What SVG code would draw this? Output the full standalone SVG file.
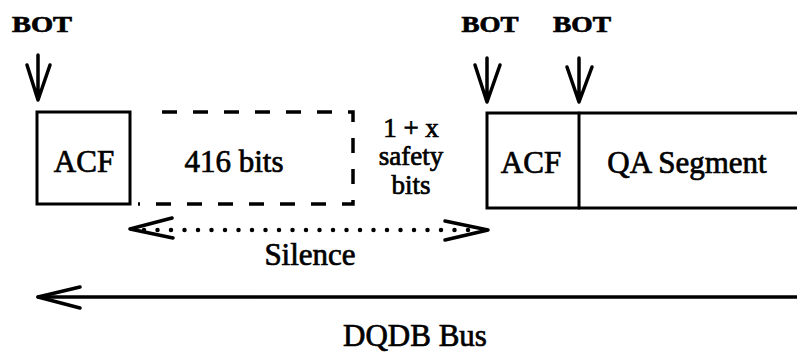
<svg xmlns="http://www.w3.org/2000/svg" width="797" height="352" viewBox="0 0 797 352">
<style>
text{font-family:"Liberation Serif","Times New Roman",serif;fill:#000;text-anchor:middle;stroke:#000;stroke-width:0.7}
.lbl{font-size:31px}
.sm{font-size:27px}
.bot{font-size:24px;font-weight:bold}
.ln{stroke:#000;stroke-width:3.5;fill:none;stroke-linecap:round;stroke-linejoin:round}
.box{stroke:#000;stroke-width:3;fill:#fff}
.dash{stroke:#000;stroke-width:3.5;fill:none;stroke-dasharray:15 16}
.dot{stroke:#000;stroke-width:4.5;fill:none;stroke-linecap:round;stroke-dasharray:0 13.5}
</style>
<rect width="797" height="352" fill="#fff"/>
<g id="bot1">
<text class="bot" x="42" y="32" textLength="60" lengthAdjust="spacingAndGlyphs">BOT</text>
<path class="ln" d="M38,55 V100 M27,65 L38,100 L50,65"/>
</g>
<g id="bot2">
<text class="bot" x="490" y="32" textLength="57" lengthAdjust="spacingAndGlyphs">BOT</text>
<path class="ln" d="M487,58 V102 M475,65 L487,102 L500,65"/>
</g>
<g id="bot3">
<text class="bot" x="582" y="32" textLength="58" lengthAdjust="spacingAndGlyphs">BOT</text>
<path class="ln" d="M579,58 V102 M567,67 L579,102 L592,67"/>
</g>
<g id="acf1">
<rect class="box" x="37" y="112" width="93" height="92"/>
<text class="lbl" x="84" y="172">ACF</text>
</g>
<g id="bits416">
<path class="dash" d="M162,112 H353 V204 H138"/>
<text class="lbl" x="234" y="172">416 bits</text>
</g>
<g id="safety">
<text class="sm" x="411" y="137">1 + x</text>
<text class="sm" x="411" y="165">safety</text>
<text class="sm" x="411" y="194">bits</text>
</g>
<g id="acf2">
<rect class="box" x="487" y="113" width="320" height="95"/>
<line class="ln" x1="579" y1="113" x2="579" y2="208" style="stroke-width:3"/>
<text class="lbl" x="531" y="173">ACF</text>
</g>
<g id="qa">
<text class="lbl" x="687" y="173">QA Segment</text>
</g>
<g id="connectors">
<path class="dot" d="M144,230 H475"/>
<path class="ln" d="M172,218 L130,229 L173,238 M445,221 L488,230 L445,240"/>
<line class="ln" x1="38" y1="297" x2="797" y2="297"/>
<path class="ln" d="M80,287 L38,297 L80,308"/>
</g>
<g id="silence">
<text class="lbl" x="310" y="265">Silence</text>
</g>
<g id="bus">
<text class="lbl" x="415" y="346">DQDB Bus</text>
</g>
</svg>
